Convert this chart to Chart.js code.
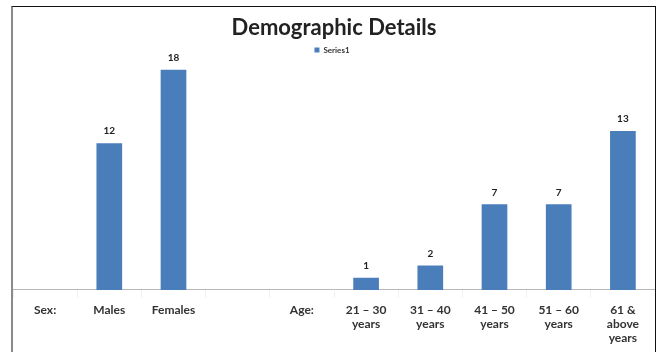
<!DOCTYPE html>
<html>
<head>
<meta charset="utf-8">
<script src="https://cdn.jsdelivr.net/npm/chart.js@4.4.0/dist/chart.umd.min.js"></script>
<style>
  html, body { margin: 0; padding: 0; background: #ffffff; }
  body { width: 660px; height: 352px; overflow: hidden; position: relative; }
  #frame {
    position: absolute; left: 11px; top: 6px; width: 642px; height: 360px;
    border-left: 2px solid #8a8a8a; border-top: 1px solid #111; border-right: 1px solid #111;
    background: #fff;
  }
  #wrap { position: absolute; left: 0; top: 0; width: 642px; height: 346px; }
</style>
</head>
<body>
<div id="frame"><div id="wrap"><canvas id="chart"></canvas></div></div>
<script>
// Respondent counts by sex and by age band
const categories = [
  'Sex:', 'Males', 'Females', '', 'Age:',
  ['21 – 30', 'years'], ['31 – 40', 'years'], ['41 – 50', 'years'],
  ['51 – 60', 'years'], ['61 &', 'above', 'years']
];
const series1 = [null, 12, 18, null, null, 1, 2, 7, 7, 13];
const seriesName = 'Series1';
const chartTitle = 'Demographic Details';

const FONT = 'Lato, "Open Sans", "DejaVu Sans", sans-serif';
const BAR_BLUE = '#4a7ebb';

// Writes each bar's value just above it
const valueLabels = {
  id: 'valueLabels',
  afterDatasetsDraw(chart) {
    const ctx = chart.ctx;
    const meta = chart.getDatasetMeta(0);
    ctx.save();
    ctx.font = 'bold 10px ' + FONT;
    ctx.fillStyle = '#222';
    ctx.textAlign = 'center';
    ctx.textBaseline = 'middle';
    meta.data.forEach((bar, i) => {
      const v = chart.data.datasets[0].data[i];
      if (v === null || v === undefined) return;
      ctx.fillText(String(v), bar.x, bar.y - 12);
    });
    ctx.restore();
  }
};

// Floats the legend just under the title, centred over the plot
const legendPlacement = {
  id: 'legendPlacement',
  afterLayout(chart) {
    const lg = chart.legend;
    if (!lg || !lg.columnSizes || !lg.columnSizes.length) return;
    const pad = lg.options.labels.padding;
    const w = lg.columnSizes[0].width;
    const h = lg.columnSizes[0].height;
    const cx = chart.width / 2 - 2;
    lg.left = cx - w / 2 - pad;
    lg.right = lg.left + w + 2 * pad;
    lg.top = 39 - pad;
    lg.bottom = lg.top + h + 2 * pad;
  }
};

new Chart(document.getElementById('chart'), {
  type: 'bar',
  data: {
    labels: categories,
    datasets: [{
      label: seriesName,
      data: series1,
      backgroundColor: BAR_BLUE,
      borderWidth: 0,
      barPercentage: 0.5,
      categoryPercentage: 0.8
    }]
  },
  options: {
    responsive: true,
    maintainAspectRatio: false,
    animation: false,
    layout: { padding: { top: 0, bottom: 3, left: 0, right: 0 } },
    plugins: {
      title: {
        display: true,
        text: chartTitle,
        color: '#222',
        font: { family: FONT, size: 22, weight: 'bold' },
        padding: { top: 8, bottom: 4 }
      },
      legend: {
        position: 'chartArea',
        align: 'start',
        labels: {
          boxWidth: 5,
          boxHeight: 5,
          padding: 4,
          color: '#333',
          font: { family: FONT, size: 8, weight: 'bold' }
        }
      },
      tooltip: { enabled: false }
    },
    scales: {
      x: {
        grid: {
          drawOnChartArea: false,
          drawTicks: true,
          tickLength: 8,
          color: '#f0f0f0'
        },
        border: { display: true, color: '#b8b8b8', width: 1 },
        ticks: {
          color: '#333',
          padding: 5,
          maxRotation: 0,
          autoSkip: false,
          font: { family: FONT, size: 12, weight: 'bold', lineHeight: 1.17 }
        }
      },
      y: {
        display: false,
        min: 0,
        max: 20
      }
    }
  },
  plugins: [legendPlacement, valueLabels]
});
</script>
</body>
</html>
